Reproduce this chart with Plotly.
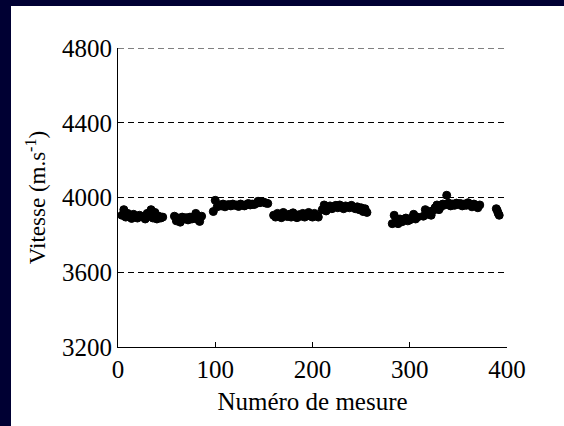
import plotly.graph_objects as go

# ---- data ----
x_g1 = [4, 6, 8, 10, 12, 14, 16, 18, 20, 22, 24, 26, 28, 30, 32, 34, 36, 38, 40, 42, 44, 46]
v_g1 = [3905, 3935, 3895, 3915, 3900, 3888, 3910, 3898, 3890, 3905, 3900, 3895, 3885,
        3915, 3900, 3935, 3890, 3920, 3885, 3900, 3890, 3895]

x_g2 = [58, 60, 62, 64, 66, 68, 70, 72, 74, 76, 78, 80, 82, 84, 86]
v_g2 = [3900, 3875, 3890, 3868, 3895, 3885, 3892, 3880, 3895, 3885, 3890, 3915, 3882, 3872, 3900]

x_g3 = [98, 100, 102, 104, 106, 108, 110, 112, 114, 116, 118, 120, 122, 124, 126, 128,
        130, 132, 134, 136, 138, 140, 142, 144, 146, 148, 150, 152, 154]
v_g3 = [3925, 3985, 3950, 3960, 3955, 3965, 3950, 3960, 3962, 3955, 3965, 3958, 3960, 3952,
        3965, 3960, 3955, 3962, 3968, 3960, 3965, 3962, 3968, 3980, 3972, 3978, 3975, 3970, 3968]

x_g4 = [160, 162, 164, 166, 168, 170, 172, 174, 176, 178, 180, 182, 184, 186, 188, 190,
        192, 194, 196, 198, 200, 202, 204, 206]
v_g4 = [3905, 3895, 3915, 3900, 3892, 3920, 3905, 3898, 3910, 3895, 3918, 3900, 3892, 3908,
        3900, 3915, 3895, 3905, 3920, 3900, 3895, 3915, 3905, 3895]

x_g5 = [210, 212, 214, 216, 218, 220, 222, 224, 226, 228, 230, 232, 234, 236, 238, 240,
        242, 244, 246, 248, 250, 252, 254, 256]
v_g5 = [3935, 3960, 3928, 3945, 3955, 3940, 3950, 3958, 3945, 3960, 3948, 3940, 3955, 3950,
        3945, 3958, 3948, 3940, 3950, 3935, 3945, 3925, 3940, 3920]

x_g6 = [282, 284, 286, 288, 290, 292, 294, 296, 298, 300, 302, 304, 306, 308]
v_g6 = [3860, 3905, 3875, 3860, 3885, 3870, 3878, 3890, 3875, 3880, 3890, 3910, 3885, 3895]

x_g7 = [314, 316, 318, 320, 322, 324, 326, 328, 330, 332, 334, 336, 338, 340, 342, 344,
        346, 348, 350, 352, 354, 356, 358, 360, 362, 364, 366, 368, 370, 372]
v_g7 = [3900, 3935, 3910, 3925, 3905, 3930, 3945, 3960, 3935, 3950, 3965, 3960, 4012, 3970,
        3955, 3965, 3958, 3970, 3962, 3968, 3955, 3965, 3958, 3972, 3960, 3950, 3965, 3955,
        3945, 3960]

x_g8 = [389, 390, 391, 392]
v_g8 = [3940, 3930, 3915, 3905]

x_ticks = [0, 100, 200, 300, 400]
y_ticks = [3200, 3600, 4000, 4400, 4800]
y_top = 4800

x_all = x_g1 + x_g2 + x_g3 + x_g4 + x_g5 + x_g6 + x_g7 + x_g8
v_all = v_g1 + v_g2 + v_g3 + v_g4 + v_g5 + v_g6 + v_g7 + v_g8

# ---- layout geometry ----
W, H = 564, 426
ML, MR, MT, MB = 118, 57, 48, 79
PW, PH = W - ML - MR, H - MT - MB
NAVY = "#000033"
FONT = "Liberation Serif, Times New Roman, DejaVu Serif, serif"
FS_TICK = 25
FS_XTITLE = 25
FS_YTITLE = 23
DASH = "6px,4px"

fig = go.Figure()
fig.add_trace(go.Scatter(
    x=x_all, y=v_all, mode="markers",
    marker=dict(color="black", size=8, line=dict(color="black", width=1)),
    showlegend=False, cliponaxis=False,
))

# navy frame strips (left and top), in paper coordinates derived from margins
def px_to_xpaper(px):
    return (px - ML) / PW

def py_to_ypaper(py):
    return 1 - (py - MT) / PH

fig.add_shape(type="rect", xref="paper", yref="paper",
              x0=px_to_xpaper(-2), x1=px_to_xpaper(11),
              y0=py_to_ypaper(H + 2), y1=py_to_ypaper(-2),
              fillcolor=NAVY, line=dict(width=0), layer="below")
fig.add_shape(type="rect", xref="paper", yref="paper",
              x0=px_to_xpaper(-2), x1=px_to_xpaper(W + 2),
              y0=py_to_ypaper(6), y1=py_to_ypaper(-2),
              fillcolor=NAVY, line=dict(width=0), layer="below")

# top dashed grid line (plotly culls the gridline at the range edge)
fig.add_shape(type="line", xref="paper", yref="y",
              x0=0, x1=1, y0=y_top, y1=y_top,
              line=dict(color="black", width=1, dash=DASH), layer="below")

fig.update_layout(
    width=W, height=H,
    margin=dict(l=ML, r=MR, t=MT, b=MB, pad=0),
    paper_bgcolor="white", plot_bgcolor="white",
    font=dict(family=FONT, size=FS_TICK, color="black"),
)
fig.update_xaxes(
    range=[0, 400], tickvals=x_ticks, ticktext=[str(t) for t in x_ticks],
    showgrid=False, zeroline=False,
    showline=True, linecolor="black", linewidth=1,
    ticks="inside", ticklen=5, tickcolor="black",
    tickfont=dict(family=FONT, size=FS_TICK, color="black"),
    title=dict(text="Numéro de mesure", font=dict(family=FONT, size=FS_XTITLE, color="black"), standoff=10),
    automargin=False,
)
fig.update_yaxes(
    range=[3200, 4800], tickvals=y_ticks, ticktext=[str(t) for t in y_ticks],
    showgrid=True, gridcolor="black", gridwidth=1, griddash=DASH,
    zeroline=False,
    showline=True, linecolor="black", linewidth=1,
    ticks="inside", ticklen=5, tickcolor="black",
    tickfont=dict(family=FONT, size=FS_TICK, color="black"),
    title=dict(text="Vitesse (m.s<sup>-1</sup>)", font=dict(family=FONT, size=FS_YTITLE, color="black"), standoff=9),
    automargin=False,
)

fig.write_html(
    "out.html",
    config={"displayModeBar": False},
    post_script="document.body.style.margin='0';document.body.style.overflow='hidden';",
)
